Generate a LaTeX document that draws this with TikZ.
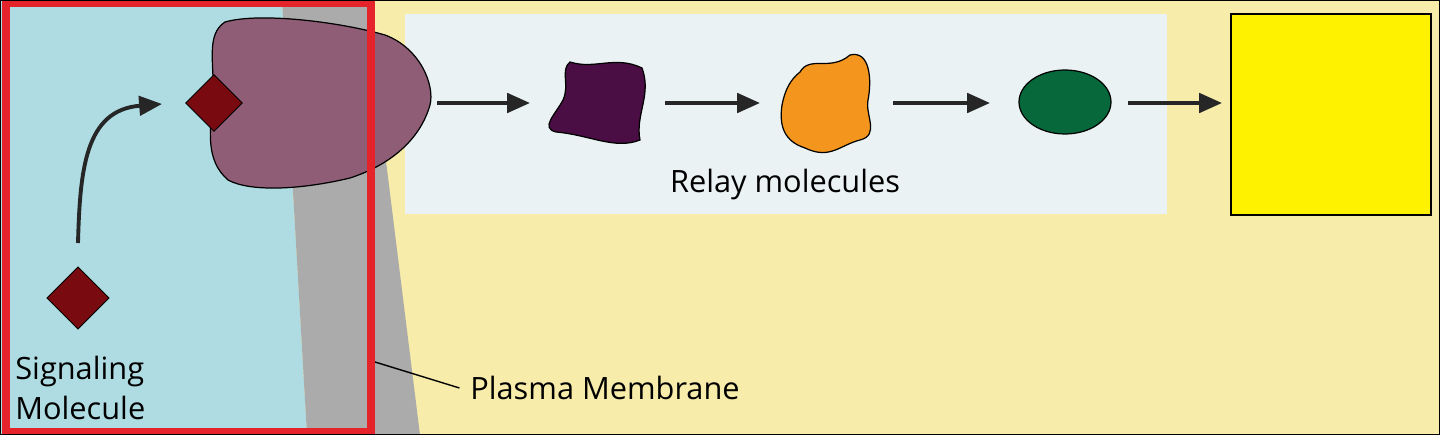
\documentclass[tikz,border=0pt]{standalone}
\usepackage{fontspec}
\setmainfont{Open Sans}
\usetikzlibrary{arrows.meta,shapes.geometric}
\definecolor{cream}{HTML}{F7ECAA}
\definecolor{cellblue}{HTML}{AEDCE2}
\definecolor{memb}{HTML}{ABABAB}
\definecolor{recep}{HTML}{8F5E76}
\definecolor{sig}{HTML}{780A10}
\definecolor{panel}{HTML}{EAF2F4}
\definecolor{relayA}{HTML}{4A0E45}
\definecolor{relayB}{HTML}{F4961E}
\definecolor{relayC}{HTML}{07693B}
\definecolor{resp}{HTML}{FFF200}
\definecolor{redbox}{HTML}{E5232B}
\tikzset{
  arr/.style={line width=2.2pt,-{Triangle[length=13pt,width=11pt]},black!85},
  lbl/.style={font=\fontsize{17.5}{22.7}\selectfont,inner sep=0pt},
}
\begin{document}
\begin{tikzpicture}[x=0.02cm,y=-0.02cm]
\useasboundingbox (0,0) rectangle (1440,435);
\fill[cream] (0,0) rectangle (1440,435);
\fill[cellblue] (0,0) -- (282,0) -- (307,435) -- (0,435) -- cycle;
\fill[memb] (282,0) -- (366,0) -- (420,435) -- (307,435) -- cycle;
\fill[panel] (405,14) rectangle (1167,214);
% receptor
\fill[recep,draw=black,line width=0.7pt] (225,22) .. controls (260,12) and (340,22) .. (385,35)
  .. controls (420,48) and (435,85) .. (430,105)
  .. controls (420,140) and (390,165) .. (350,178)
  .. controls (300,190) and (250,192) .. (228,180)
  .. controls (205,160) and (210,130) .. (213,100)
  .. controls (215,65) and (205,35) .. (225,22) -- cycle;
% signaling molecules
\node[fill=sig,draw=black,line width=0.5pt,minimum size=0.8cm,inner sep=0pt,rotate=45] (s2) at (214,103) {};
\node[fill=sig,draw=black,line width=0.5pt,minimum size=0.88cm,inner sep=0pt,rotate=45] (s1) at (78,298) {};
\coordinate (c1) at (78,243);
\coordinate (c2) at (162,104);
\draw[arr] (c1) .. controls (80,170) and (85,110) .. (c2);
% relay molecules
\fill[relayA,draw=black,line width=0.7pt] (570,62) .. controls (595,70) and (615,55) .. (642,68)
  .. controls (652,95) and (635,115) .. (640,140)
  .. controls (615,150) and (590,135) .. (556,132)
  .. controls (540,128) and (555,115) .. (563,100)
  .. controls (570,85) and (560,70) .. (570,62) -- cycle;
\fill[relayB,draw=black,line width=0.7pt] (800,72) .. controls (810,55) and (830,72) .. (850,55)
  .. controls (870,50) and (872,80) .. (868,100)
  .. controls (865,115) and (880,135) .. (860,140)
  .. controls (840,145) and (830,160) .. (805,148)
  .. controls (780,140) and (780,120) .. (782,105)
  .. controls (785,90) and (790,80) .. (800,72) -- cycle;
\node[ellipse,fill=relayC,draw=black,line width=0.7pt,minimum width=1.84cm,minimum height=1.28cm,inner sep=0pt] (r3) at (1065,102) {};
\node[fill=resp,draw=black,line width=1pt,minimum width=4cm,minimum height=4.02cm,inner sep=0pt,anchor=north west] (resp) at (1230,13) {};
% arrows
\coordinate (a0) at (437,103); \coordinate (b0) at (530,103);
\coordinate (a1) at (665,103); \coordinate (b1) at (760,103);
\coordinate (a2) at (893,103); \coordinate (b2) at (990,103);
\coordinate (a3) at (1128,103); \coordinate (b3) at (1222,103);
\draw[arr] (a0) -- (b0);
\draw[arr] (a1) -- (b1);
\draw[arr] (a2) -- (b2);
\draw[arr] (a3) -- (b3);
% labels
\node[lbl] (relay) at (785,185) {Relay molecules};
\node[lbl,align=left,anchor=west] (sm) at (15,388) {Signaling\\Molecule};
\node[lbl,anchor=west] (pm) at (470,388) {Plasma Membrane};
\coordinate (pmline) at (375,362);
\draw[line width=0.8pt] (pmline) -- ([xshift=-6pt]pm.west);
% red frame
\draw[redbox,line width=5pt] (6,3) rectangle (371,432);
\draw[black,line width=1pt] (0,0) rectangle (1440,435);
\end{tikzpicture}
\end{document}
